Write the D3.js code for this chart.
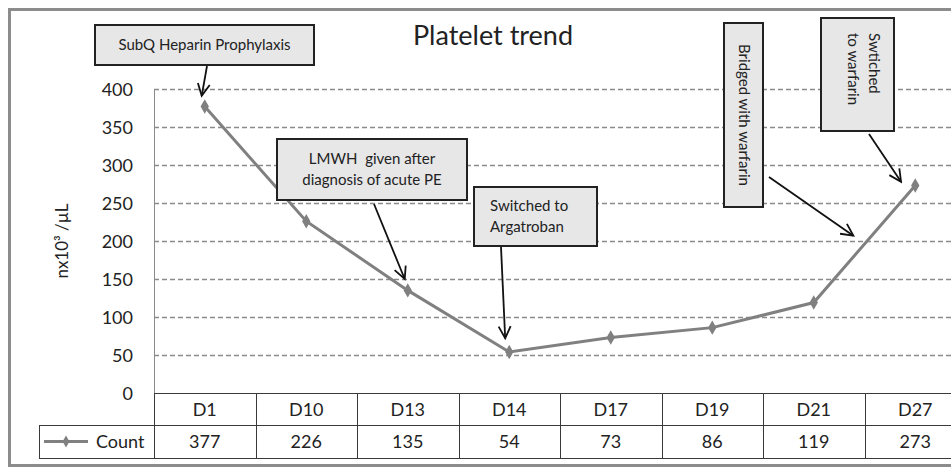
<!DOCTYPE html>
<html>
<head>
<meta charset="utf-8">
<script src="https://cdn.jsdelivr.net/npm/d3@7"></script>
<style>
    body { margin: 0; background: #fff; }
    svg text { font-family: Lato, "Open Sans", sans-serif; fill: #222; white-space: pre; }
</style>
</head>
<body>
<div id="chart"></div>
<script>
// platelet trend chart

let days = ["D1", "D10", "D13", "D14", "D17", "D19", "D21", "D27"]
let counts = [377, 226, 135, 54, 73, 86, 119, 273]
let yTicks = [0, 50, 100, 150, 200, 250, 300, 350, 400]
let seriesName = "Count"

// callouts: box in px, arrow from a px point to a data position
let notes = [
    { lines: ["SubQ Heparin Prophylaxis"], box: [95, 25, 219, 40], vertical: false, from: [207, 66], to: ["D1", -0.03, 391] },
    { lines: ["LMWH  given after", "diagnosis of acute PE"], box: [277, 139, 190, 61], vertical: false, from: [374, 204], to: ["D13", -0.03, 150] },
    { lines: ["Switched to", "Argatroban"], box: [474, 187, 123, 59], vertical: false, left: true, from: [501, 247], to: ["D14", -0.04, 72] },
    { lines: ["Bridged with warfarin"], box: [724, 23, 39, 184], vertical: true, from: [769, 177], to: ["D21", 0.39, 207] },
    { lines: ["Swtiched", "to warfarin"], box: [821, 18, 73, 113], vertical: true, top: true, from: [869, 134], to: ["D27", -0.14, 278] }
]

function renderChart(frame_id) {
    let width = 951
    let height = 468
    let plotLeft = 154
    let plotRight = 966
    let plotTop = 89
    let plotBottom = 393
    let rowH = [32, 33]
    let legendLeft = 39
    let fs = "18px"

    let svg = d3.select("#" + frame_id)
        .append("svg")
        .attr("width", width)
        .attr("height", height)

    let x = d3.scaleBand().domain(days).range([plotLeft, plotRight])
    let y = d3.scaleLinear().domain([0, 400]).range([plotBottom, plotTop])

    // outer frame (runs off the right edge like the original)
    svg.append("rect")
        .attr("x", 9.5).attr("y", 9.5)
        .attr("width", 1000).attr("height", 456)
        .attr("fill", "none")
        .attr("stroke", "#8c8c8c")
        .attr("stroke-width", 3)

    svg.append("text")
        .attr("x", 493).attr("y", 45)
        .attr("text-anchor", "middle")
        .style("font-size", "27px")
        .text("Platelet trend")

    // gridlines
    svg.selectAll(".grid")
        .data(yTicks.filter(d => d > 0))
        .enter()
        .append("line")
        .attr("x1", plotLeft).attr("x2", plotRight)
        .attr("y1", d => y(d) + 0.5).attr("y2", d => y(d) + 0.5)
        .attr("stroke", "#8a8a8a")
        .attr("stroke-width", 1.3)
        .attr("stroke-dasharray", "5,3")

    svg.append("line")
        .attr("x1", plotLeft + 0.5).attr("x2", plotLeft + 0.5)
        .attr("y1", plotTop).attr("y2", plotBottom)
        .attr("stroke", "#8a8a8a")
        .attr("stroke-width", 1)

    svg.selectAll(".ytick")
        .data(yTicks)
        .enter()
        .append("text")
        .attr("x", 133)
        .attr("y", d => y(d) + 6.5)
        .attr("text-anchor", "end")
        .style("font-size", fs)
        .text(d => d)

    svg.append("text")
        .attr("transform", "translate(68,241) rotate(-90)")
        .attr("text-anchor", "middle")
        .style("font-size", "17px")
        .text("nx10³ /µL")

    // data table under the plot
    let t0 = plotBottom
    let t1 = t0 + rowH[0]
    let t2 = t1 + rowH[1]
    let tableColor = "#3a3a3a"

    svg.append("line").attr("x1", plotLeft).attr("x2", plotRight).attr("y1", t0 + 0.5).attr("y2", t0 + 0.5).attr("stroke", tableColor)
    svg.append("line").attr("x1", legendLeft).attr("x2", plotRight).attr("y1", t1 + 0.5).attr("y2", t1 + 0.5).attr("stroke", tableColor)
    svg.append("line").attr("x1", legendLeft).attr("x2", plotRight).attr("y1", t2 + 0.5).attr("y2", t2 + 0.5).attr("stroke", tableColor)
    svg.append("line").attr("x1", legendLeft + 0.5).attr("x2", legendLeft + 0.5).attr("y1", t1).attr("y2", t2).attr("stroke", tableColor)

    svg.selectAll(".col")
        .data(days)
        .enter()
        .append("line")
        .attr("x1", d => Math.round(x(d)) + 0.5).attr("x2", d => Math.round(x(d)) + 0.5)
        .attr("y1", t0).attr("y2", t2)
        .attr("stroke", tableColor)

    svg.selectAll(".day")
        .data(days)
        .enter()
        .append("text")
        .attr("x", d => x(d) + x.bandwidth() / 2)
        .attr("y", t0 + 23)
        .attr("text-anchor", "middle")
        .style("font-size", fs)
        .text(d => d)

    svg.selectAll(".val")
        .data(counts)
        .enter()
        .append("text")
        .attr("x", (d, i) => x(days[i]) + x.bandwidth() / 2)
        .attr("y", t1 + 23)
        .attr("text-anchor", "middle")
        .style("font-size", fs)
        .text(d => d)

    // legend key in the table
    let keyY = t1 + 16.5
    svg.append("line").attr("x1", 44).attr("x2", 88).attr("y1", keyY).attr("y2", keyY)
        .attr("stroke", "#808080").attr("stroke-width", 3)
    svg.append("path")
        .attr("d", d3.symbol().type(d3.symbolDiamond).size(40))
        .attr("transform", "translate(66," + keyY + ")")
        .attr("fill", "#808080")
    svg.append("text")
        .attr("x", 96).attr("y", t1 + 23)
        .style("font-size", fs)
        .text(seriesName)

    // series line
    let pts = counts.map((d, i) => [x(days[i]) + x.bandwidth() / 2, y(d)])

    svg.append("path")
        .attr("d", d3.line()(pts))
        .attr("fill", "none")
        .attr("stroke", "#808080")
        .attr("stroke-width", 3)

    svg.selectAll(".pt")
        .data(pts)
        .enter()
        .append("path")
        .attr("d", d3.symbol().type(d3.symbolDiamond).size(60))
        .attr("transform", d => "translate(" + d[0] + "," + d[1] + ")")
        .attr("fill", "#808080")

    // arrowhead
    svg.append("defs").append("marker")
        .attr("id", "arrow")
        .attr("markerUnits", "userSpaceOnUse")
        .attr("viewBox", "-14 -8 16 16")
        .attr("markerWidth", 16).attr("markerHeight", 16)
        .attr("refX", 0).attr("refY", 0)
        .attr("orient", "auto")
        .append("path")
        .attr("d", "M-12,-6L0,0L-12,6")
        .attr("fill", "none")
        .attr("stroke", "#111")
        .attr("stroke-width", 1.8)

    notes.forEach(n => {
        let [bx, by, bw, bh] = n.box
        svg.append("rect")
            .attr("x", bx).attr("y", by)
            .attr("width", bw).attr("height", bh)
            .attr("fill", "#e7e7e8")
            .attr("stroke", "#222")
            .attr("stroke-width", 2)

        let tx = x(n.to[0]) + x.bandwidth() / 2 + n.to[1] * x.bandwidth()
        let ty = y(n.to[2])
        svg.append("line")
            .attr("x1", n.from[0]).attr("y1", n.from[1])
            .attr("x2", tx).attr("y2", ty)
            .attr("stroke", "#111")
            .attr("stroke-width", 1.8)
            .attr("marker-end", "url(#arrow)")

        let lh = 21
        let label
        if (!n.vertical) {
            let cx = n.left ? bx + 16 : bx + bw / 2
            let cy = by + bh / 2 - (n.lines.length - 1) * lh / 2 + 5
            label = svg.append("text")
                .attr("text-anchor", n.left ? "start" : "middle")
                .attr("transform", "translate(" + cx + "," + cy + ")")
        } else {
            let cx = bx + bw / 2 + (n.lines.length - 1) * lh / 2 - (n.top ? -1 : 5)
            let cy = n.top ? by + 15 : by + bh / 2
            label = svg.append("text")
                .attr("text-anchor", n.top ? "start" : "middle")
                .attr("transform", "translate(" + cx + "," + cy + ") rotate(90)")
        }
        label.style("font-size", "15px")
        n.lines.forEach((s, i) => {
            label.append("tspan")
                .attr("x", 0)
                .attr("y", i * lh)
                .text(s)
        })
    })
}

renderChart("chart")
</script>
</body>
</html>
